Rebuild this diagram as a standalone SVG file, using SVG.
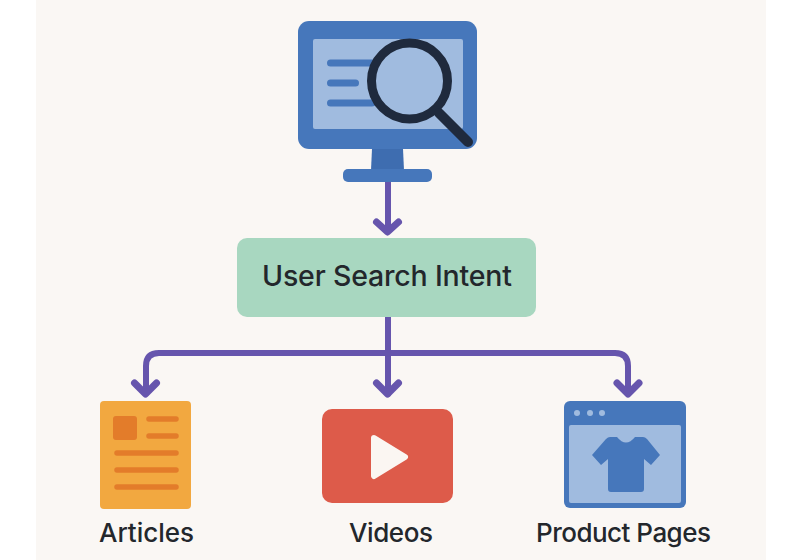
<svg xmlns="http://www.w3.org/2000/svg" width="800" height="560" viewBox="0 0 800 560">
<defs>
<style>
.lbl{font-family:"Inter","Liberation Sans",sans-serif;font-weight:500;fill:#23272c}
.conn{fill:none;stroke:#6655ad;stroke-width:6;stroke-linecap:round;stroke-linejoin:round}
.head{stroke-width:7}
.bar{stroke-linecap:round;fill:none}
</style>
</defs>
<rect width="800" height="560" fill="#ffffff"/>
<rect x="36" y="0" width="730" height="560" fill="#faf7f4"/>
<g id="connectors" class="conn">
<path d="M388 182V230"/>
<path class="head" d="M376.500 222L387.500 232L398.500 222"/>
<path d="M388 317V394"/>
<path class="head" d="M376.500 383L387.500 394L398.500 383"/>
<path d="M388 353H159Q146 353 146 366V392"/>
<path class="head" d="M134.500 383L145.500 394L156.500 383"/>
<path d="M388 353H615Q628 353 628 366V392"/>
<path class="head" d="M617 383L628 394L639 383"/>
</g>
<g id="monitor">
<rect x="298" y="21" width="179" height="128" rx="11" fill="#4677bb"/>
<rect x="313" y="39" width="150" height="90" rx="2" fill="#a0bbdf"/>
<path d="M372 149H403L404 170H371Z" fill="#3e6db0"/>
<rect x="343" y="169" width="89" height="13" rx="5" fill="#4677bb"/>
<g class="bar" stroke="#4677bb" stroke-width="7">
<path d="M330.500 63H372"/><path d="M330.500 83H355.500"/><path d="M330.500 103H372"/>
</g>
<circle cx="409.500" cy="81" r="38" fill="#a0bbdf" stroke="#1f2a3d" stroke-width="9"/>
<path d="M439 113L468 142" stroke="#1f2a3d" stroke-width="10" stroke-linecap="round"/>
</g>
<g id="intent">
<rect x="237" y="238" width="299" height="79" rx="10" fill="#a8d7c0"/>
<text class="lbl" x="262" y="286" font-size="28.500" textLength="250" lengthAdjust="spacing">User Search Intent</text>
</g>
<g id="articles">
<rect x="100" y="401" width="91" height="108" rx="4" fill="#f2a840"/>
<rect x="113" y="416" width="24" height="24" rx="3" fill="#e37c2a"/>
<g class="bar" stroke="#e37c2a" stroke-width="5.500">
<path d="M149 419H176"/><path d="M149 436H176"/><path d="M117 453H176"/><path d="M117 470H176"/><path d="M117 487H176"/>
</g>
<text class="lbl" x="99" y="542" font-size="26" textLength="95" lengthAdjust="spacing">Articles</text>
</g>
<g id="videos">
<rect x="322" y="409" width="131" height="94" rx="10" fill="#dd5b4a"/>
<path d="M374 438L405 457L374 476Z" fill="#fbf6f2" stroke="#fbf6f2" stroke-width="6" stroke-linejoin="round"/>
<text class="lbl" x="349" y="542" font-size="26" textLength="84" lengthAdjust="spacing">Videos</text>
</g>
<g id="product">
<rect x="564" y="401" width="122" height="107" rx="6" fill="#4677bb"/>
<rect x="569" y="425" width="112" height="78" rx="2" fill="#a0bbdf"/>
<g fill="#a0bbdf"><circle cx="577" cy="413" r="3"/><circle cx="590" cy="413" r="3"/><circle cx="602" cy="413" r="3"/></g>
<path d="M610 437L617 437Q626 448 635 437L643 437Q645 437 647 439L660 455L651 465L644 459V489Q644 492 641 492H611Q608 492 608 489V459L601 465L592 455L606 439Q608 437 610 437Z" fill="#4677bb"/>
<text class="lbl" x="536" y="542" font-size="26" textLength="175" lengthAdjust="spacing">Product Pages</text>
</g>
</svg>
